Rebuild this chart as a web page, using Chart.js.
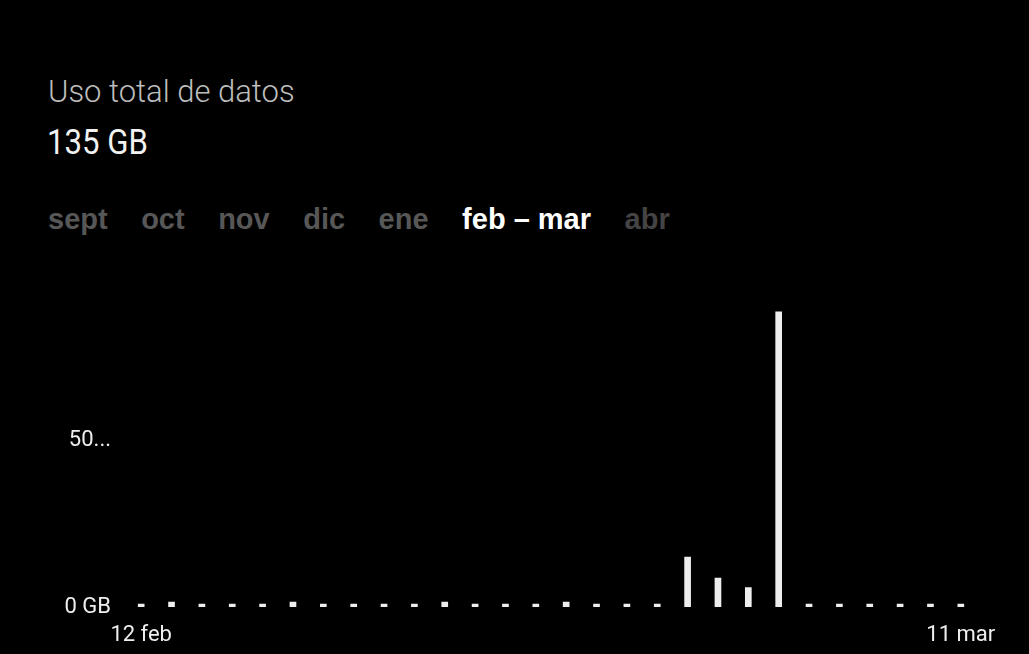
<!DOCTYPE html>
<html lang="es">
<head>
<meta charset="utf-8">
<title>Uso total de datos</title>
<script src="https://cdn.jsdelivr.net/npm/chart.js@4.4.1/dist/chart.umd.min.js"></script>
<style>
  html, body { margin: 0; padding: 0; background: #000; }
  body { width: 1029px; height: 654px; position: relative; overflow: hidden; font-family: Roboto, "Liberation Sans", sans-serif; }
  #titulo { position: absolute; left: 48px; top: 77px; font-size: 31px; line-height: 30px; font-weight: 300; color: #bdbdbd; }
  #total { position: absolute; left: 47px; top: 125px; font-size: 35px; line-height: 35px; color: #f2f2f2; transform: scaleX(0.89); transform-origin: left top; }
  #meses { position: absolute; left: 48px; top: 205px; display: flex; gap: 33.5px; font-family: "Liberation Sans", Arial, sans-serif; font-weight: bold; font-size: 29px; line-height: 29px; color: #575757; white-space: nowrap; }
  #meses .activo { color: #fff; }
  #meses .futuro { color: #444; }
  #grafico { position: absolute; left: 0; top: 246px; width: 1029px; height: 408px; }
</style>
</head>
<body>
<div id="titulo">Uso total de datos</div>
<div id="total">135 GB</div>
<div id="meses"></div>
<div id="grafico"><canvas id="usoChart"></canvas></div>

<script>
// datos (GB por dia)
const dias = ['12 feb', '13 feb', '14 feb', '15 feb', '16 feb', '17 feb', '18 feb', '19 feb', '20 feb', '21 feb',
  '22 feb', '23 feb', '24 feb', '25 feb', '26 feb', '27 feb', '28 feb', '1 mar', '2 mar', '3 mar',
  '4 mar', '5 mar', '6 mar', '7 mar', '8 mar', '9 mar', '10 mar', '11 mar'];
const usoGB = [0, 1.5, 0, 0, 0, 1.5, 0, 0, 0, 0,
  1.5, 0, 0, 0, 1.5, 0, 0, 0, 15, 8.7,
  5.8, 88.7, 0, 0, 0, 0, 0, 0];
const ticksY = [0, 50];
const etiquetasY = ['0 GB', '50...'];
const meses = ['sept', 'oct', 'nov', 'dic', 'ene', 'feb – mar', 'abr'];
const mesActivo = 'feb – mar';

// pestañas de meses
const contMeses = document.getElementById('meses');
let pasado = true;
meses.forEach(m => {
  const span = document.createElement('span');
  span.textContent = m;
  if (m === mesActivo) { span.className = 'activo'; pasado = false; }
  else if (!pasado) span.className = 'futuro';
  contMeses.appendChild(span);
});

const fuente = 'Roboto, "Liberation Sans", sans-serif';

new Chart(document.getElementById('usoChart').getContext('2d'), {
  type: 'bar',
  data: {
    labels: dias,
    datasets: [{
      data: usoGB,
      backgroundColor: '#eeeeee',
      borderWidth: 0,
      barThickness: 6,
      minBarLength: 3
    }]
  },
  options: {
    responsive: true,
    maintainAspectRatio: false,
    animation: false,
    layout: { padding: { top: 11, right: 53, left: 0, bottom: 0 } },
    plugins: {
      legend: { display: false },
      tooltip: { enabled: false }
    },
    scales: {
      x: {
        grid: { display: false, drawTicks: false },
        border: { display: false },
        ticks: {
          color: '#eeeeee',
          font: { family: fuente, size: 22 },
          padding: 15,
          maxRotation: 0,
          autoSkip: false,
          callback: (v, i) => (i === 0 || i === dias.length - 1) ? dias[i] : ''
        },
        afterFit: s => { s.height = 47; }
      },
      y: {
        min: 0,
        max: 100,
        grid: { display: false, drawTicks: false },
        border: { display: false },
        afterBuildTicks: s => { s.ticks = ticksY.map(v => ({ value: v })); },
        ticks: {
          color: '#eeeeee',
          font: { family: fuente, size: 22 },
          padding: 15,
          callback: v => etiquetasY[ticksY.indexOf(v)]
        },
        afterFit: s => { s.width = 126; }
      }
    }
  }
});
</script>
</body>
</html>
